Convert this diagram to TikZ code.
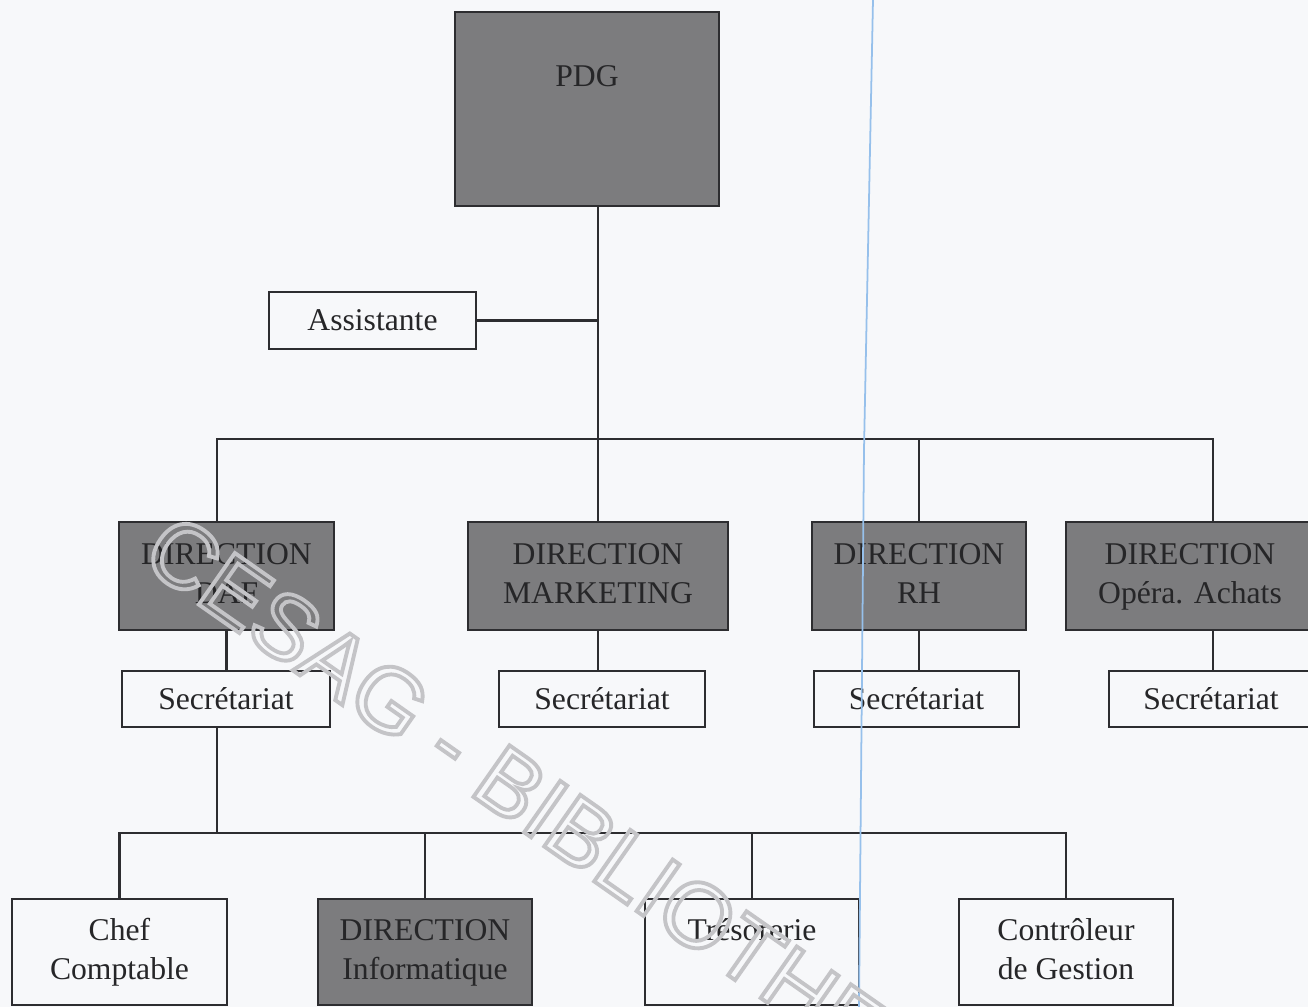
\documentclass[tikz,border=0pt]{standalone}
\usepackage{fontspec}
\setmainfont{Liberation Serif}
\newfontfamily\wmfont{Liberation Sans}
\definecolor{bg}{RGB}{247,248,250}
\definecolor{boxgrey}{RGB}{124,124,126}
\definecolor{linec}{RGB}{45,45,48}
\definecolor{txt}{RGB}{38,38,40}
\definecolor{scanblue}{RGB}{150,192,235}
\definecolor{wm}{RGB}{196,196,199}
\tikzset{
  box/.style={draw=linec, line width=0.75pt, inner sep=0pt, align=center, text=txt,
              font=\fontsize{9}{11.1}\selectfont},
  darkbox/.style={box, fill=boxgrey},
  lightbox/.style={box, fill=bg},
  conn/.style={draw=linec, line width=0.6pt},
}
\begin{document}
\begin{tikzpicture}[x=0.01cm, y=-0.01cm]
\clip (0,0) rectangle (1308,1007);
\fill[bg] (0,0) rectangle (1308,1007);

% top
\node[darkbox, minimum width=2.64cm, text height=0.75cm, text depth=1.19cm] (pdg) at (587,109) {PDG};
\node[lightbox, minimum width=2.07cm, minimum height=0.57cm] (assist) at (372.5,320.5) {Assistante};
\coordinate (b1) at (598,439);

% directions
\node[darkbox, minimum width=2.15cm, minimum height=1.08cm] (daf) at (226.5,576) {\strut DIRECTION\\\strut DAF};
\node[darkbox, minimum width=2.60cm, minimum height=1.08cm] (mkt) at (598,576) {\strut DIRECTION\\\strut MARKETING};
\node[darkbox, minimum width=2.14cm, minimum height=1.08cm] (rh) at (919,576) {\strut DIRECTION\\\strut RH};
\node[darkbox, minimum width=2.48cm, minimum height=1.08cm] (opera) at (1190,576) {\strut DIRECTION\\\strut Opéra. Achats};

% secretariats
\node[lightbox, minimum width=2.08cm, minimum height=0.56cm] (s1) at (226,699) {Secrétariat};
\node[lightbox, minimum width=2.06cm, minimum height=0.56cm] (s2) at (602,699) {Secrétariat};
\node[lightbox, minimum width=2.05cm, minimum height=0.56cm] (s3) at (916.5,699) {Secrétariat};
\node[lightbox, minimum width=2.04cm, minimum height=0.56cm] (s4) at (1211,699) {Secrétariat};
\coordinate (b2) at (217,833);

% bottom row
\node[lightbox, minimum width=2.15cm, minimum height=1.06cm] (chef) at (119.5,952) {\strut Chef\\\strut Comptable};
\node[darkbox, minimum width=2.14cm, minimum height=1.06cm] (info) at (425,952) {\strut DIRECTION\\\strut Informatique};
\node[lightbox, minimum width=2.14cm, minimum height=1.06cm] (treso) at (752,952) {\strut Trésorerie\\\strut};
\node[lightbox, minimum width=2.14cm, minimum height=1.06cm] (ctrl) at (1066,952) {\strut Contrôleur\\\strut de Gestion};

% connectors, level 1
\draw[conn] (pdg.south -| b1) -- (mkt.north);
\draw[conn] (assist.east) -- (assist.east -| b1);
\draw[conn] ([xshift=-0.095cm]daf.north) |- (b1) -| ([xshift=0.23cm]opera.north);
\draw[conn] (rh.north) -- (rh.north |- b1);

% connectors to secretariats
\draw[conn] (daf.south) -- (daf.south |- s1.north);
\draw[conn] (mkt.south) -- (mkt.south |- s2.north);
\draw[conn] (rh.south) -- (rh.south |- s3.north);
\draw[conn] ([xshift=0.23cm]opera.south) -- ([xshift=0.23cm]opera.south |- s4.north);

% level 2
\draw[conn] (s1.south -| b2) -- (b2);
\draw[conn] (chef.north) |- (b2) -| (ctrl.north);
\draw[conn] (info.north) -- (info.north |- b2);
\draw[conn] (treso.north) -- (treso.north |- b2);

% scan artefact line
\draw[scanblue, line width=0.5pt] (873,0) -- (864,450) -- (859,1007);

% watermark
\node[rotate=-35, anchor=base west, inner sep=0pt, text=wm, font=\wmfont\fontsize{26}{26}\selectfont] (wmark) at (138,562)
  {\special{pdf:literal direct 1 Tr 1.1 w}CESAG - BIBLIOTHEQUE\special{pdf:literal direct 0 Tr}};
\end{tikzpicture}
\end{document}
